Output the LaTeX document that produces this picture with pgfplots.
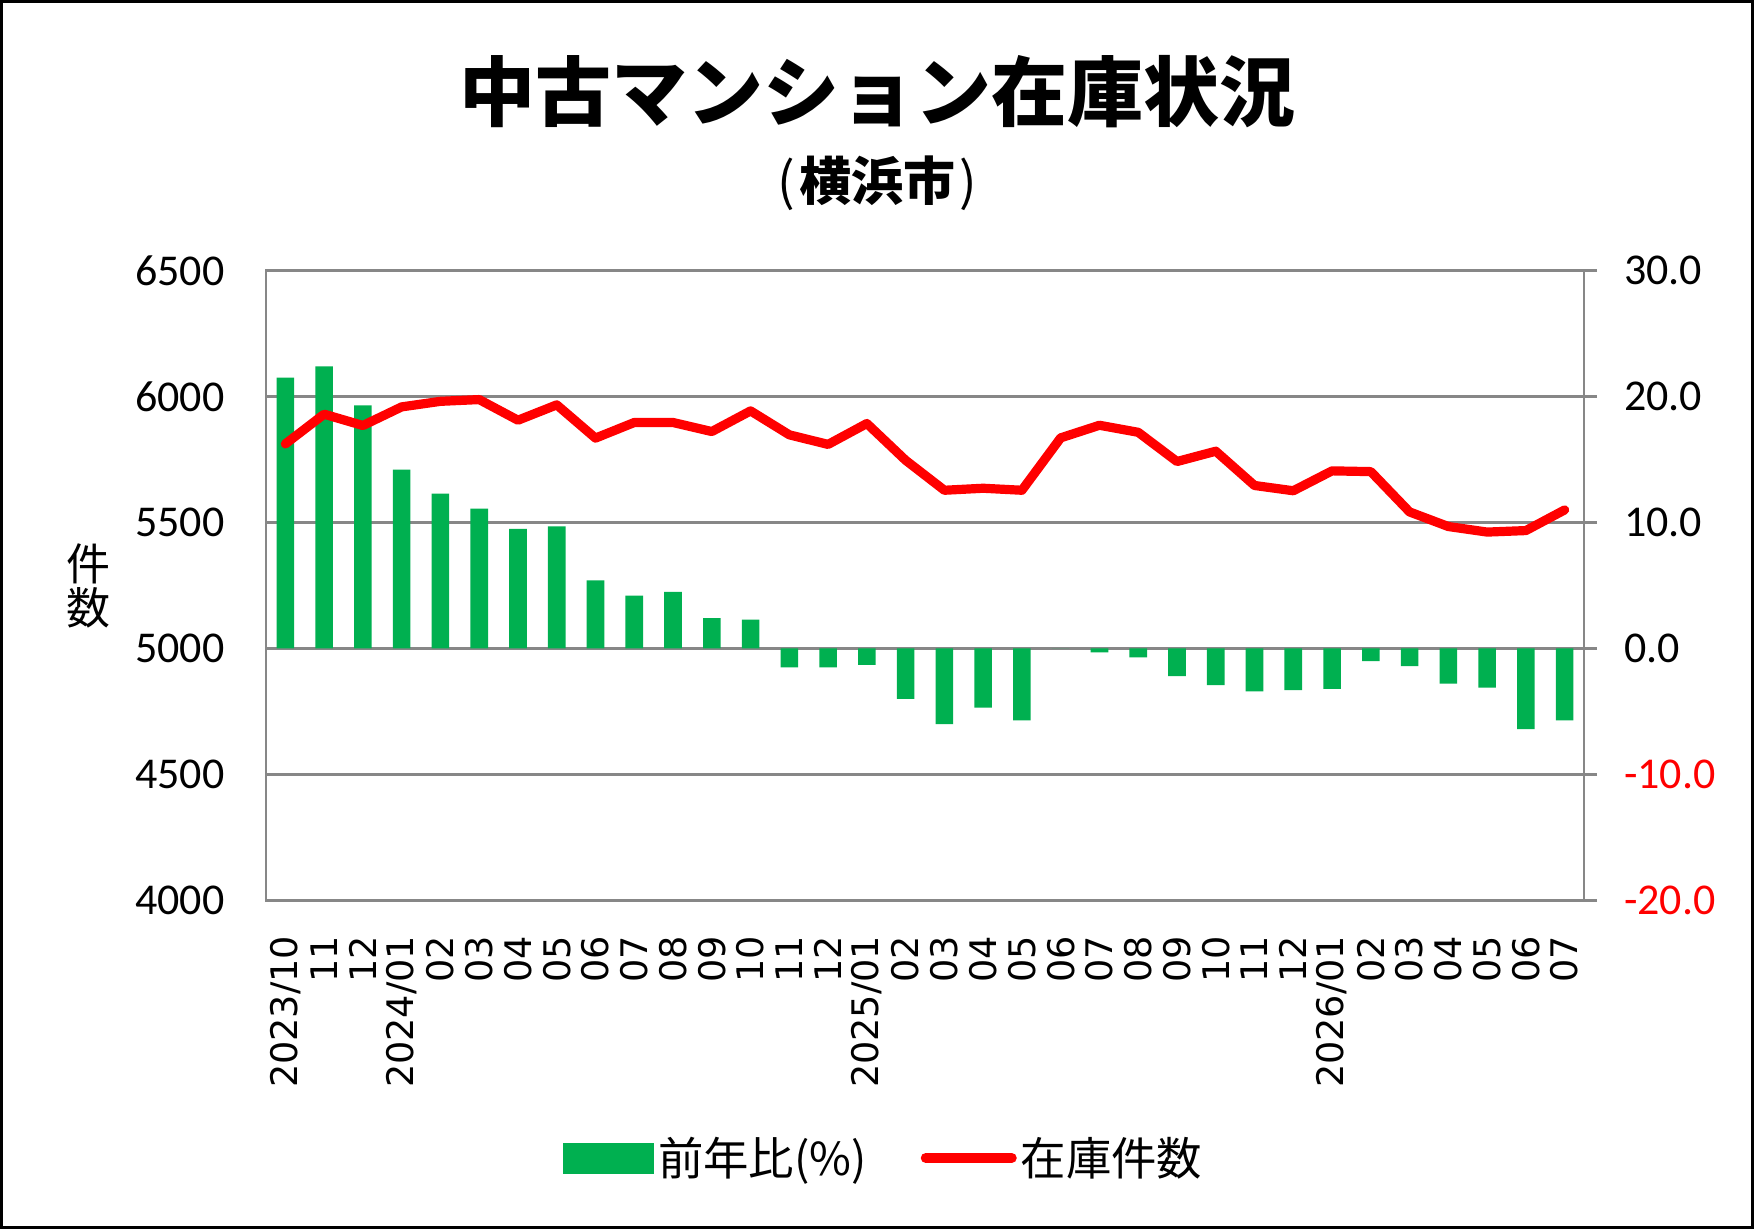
\documentclass[border=0pt]{standalone}
\usepackage{fontspec}
\setmainfont{Carlito}
\newfontfamily\jp{Noto Sans CJK JP}
\newfontfamily\dejavu{DejaVu Sans}
\usepackage{pgfplots}
\pgfplotsset{compat=1.18}
\definecolor{bargreen}{HTML}{00B050}
\definecolor{linered}{HTML}{FF0000}
\definecolor{gridgray}{HTML}{878787}

\begin{document}
\begin{tikzpicture}
\useasboundingbox (0,0) rectangle (877pt,614.5pt);
\fill[white] (0,0) rectangle (877pt,614.5pt);
\draw[black, line width=1.5pt] (0.75pt,0.75pt) rectangle (876.25pt,613.75pt);
\node[font=\jp\bfseries\fontsize{38}{40}\selectfont] at (438.5pt,568.8pt) {中古マンション在庫状況};
\node[font=\jp\bfseries\fontsize{26}{28}\selectfont] at (438.5pt,523pt) {{\mdseries(}\hspace{2pt}横浜市\hspace{2pt}{\mdseries)}};

\begin{axis}[
  at={(133pt,164.3pt)}, anchor=south west,
  width=659pt, height=314.9pt, scale only axis,
  xmin=-0.5, xmax=33.5, ymin=-20, ymax=30,
  ybar, bar width=8.8pt,
  axis line style={gridgray, line width=1.2pt},
  ymajorgrids, grid style={gridgray, line width=1.2pt},
  ytick={-20,-10,0,10,20,30},
  yticklabels={\textcolor{linered}{-20.0},\textcolor{linered}{-10.0},0.0,10.0,20.0,30.0},
  ytick pos=right, yticklabel pos=right,
  tick align=outside, major tick length=6.5pt,
  ytick style={gridgray, line width=1.2pt},
  yticklabel style={font=\fontsize{22}{24}\selectfont, anchor=west, inner sep=0pt, xshift=13.3pt},
  xtick={0,...,33},
  xticklabels={2023/10,11,12,2024/01,02,03,04,05,06,07,08,09,10,11,12,2025/01,02,03,04,05,06,07,08,09,10,11,12,2026/01,02,03,04,05,06,07},
  x tick label style={font=\dejavu\fontsize{18.3}{20}\selectfont, rotate=90, anchor=east, inner sep=0pt, xshift=-11pt},
  xtick style={draw=none},
]
\addplot[fill=bargreen, draw=none] coordinates {
(0,21.5) (1,22.4) (2,19.3) (3,14.2) (4,12.3) (5,11.1) (6,9.5) (7,9.7) (8,5.4) (9,4.2)
(10,4.5) (11,2.4) (12,2.3) (13,-1.5) (14,-1.5) (15,-1.3) (16,-4.0) (17,-6.0) (18,-4.7) (19,-5.7)
(20,0.0) (21,-0.3) (22,-0.7) (23,-2.2) (24,-2.9) (25,-3.4) (26,-3.3) (27,-3.2) (28,-1.0) (29,-1.4)
(30,-2.8) (31,-3.1) (32,-6.4) (33,-5.7)
};
\end{axis}

\begin{axis}[
  at={(133pt,164.3pt)}, anchor=south west,
  width=659pt, height=314.9pt, scale only axis,
  xmin=-0.5, xmax=33.5, ymin=4000, ymax=6500,
  axis line style={draw=none},
  xtick=\empty,
  ytick={4000,4500,5000,5500,6000,6500},
  yticklabels={4000,4500,5000,5500,6000,6500},
  ytick pos=left, ytick style={draw=none},
  yticklabel style={font=\fontsize{22}{24}\selectfont, anchor=east, inner sep=0pt, xshift=-20.6pt},
  every axis y label/.style={at={(axis description cs:-0.135,0.5)}, anchor=center, align=center, font=\jp\fontsize{22}{22}\selectfont},
  ylabel={件\\数},
  legend style={at={(0.4695,-0.409)}, anchor=center, draw=none, fill=none, legend columns=2,
    font=\jp\fontsize{22.7}{24}\selectfont, nodes={inner sep=2pt},
    /tikz/every even column/.append style={column sep=25pt}},
  legend cell align=left,
]
\addlegendimage{legend image code/.code={\fill[bargreen] (0pt,-7.5pt) rectangle (45pt,7.5pt);}}
\addlegendentry{前年比(\%)}
\addplot[linered, line width=4.6pt, line join=round, line cap=round,
  legend image code/.code={\draw[linered, line width=5pt, line cap=round] (2.5pt,0pt) -- (45.5pt,0pt);}] coordinates {
(0,5812) (1,5930) (2,5885) (3,5959) (4,5981) (5,5988) (6,5906) (7,5967) (8,5835) (9,5897)
(10,5897) (11,5861) (12,5943) (13,5848) (14,5810) (15,5893) (16,5747) (17,5628) (18,5636) (19,5628)
(20,5836) (21,5886) (22,5858) (23,5742) (24,5783) (25,5647) (26,5626) (27,5705) (28,5702) (29,5542)
(30,5484) (31,5462) (32,5468) (33,5550)
};
\addlegendentry{在庫件数}
\end{axis}
\end{tikzpicture}
\end{document}
